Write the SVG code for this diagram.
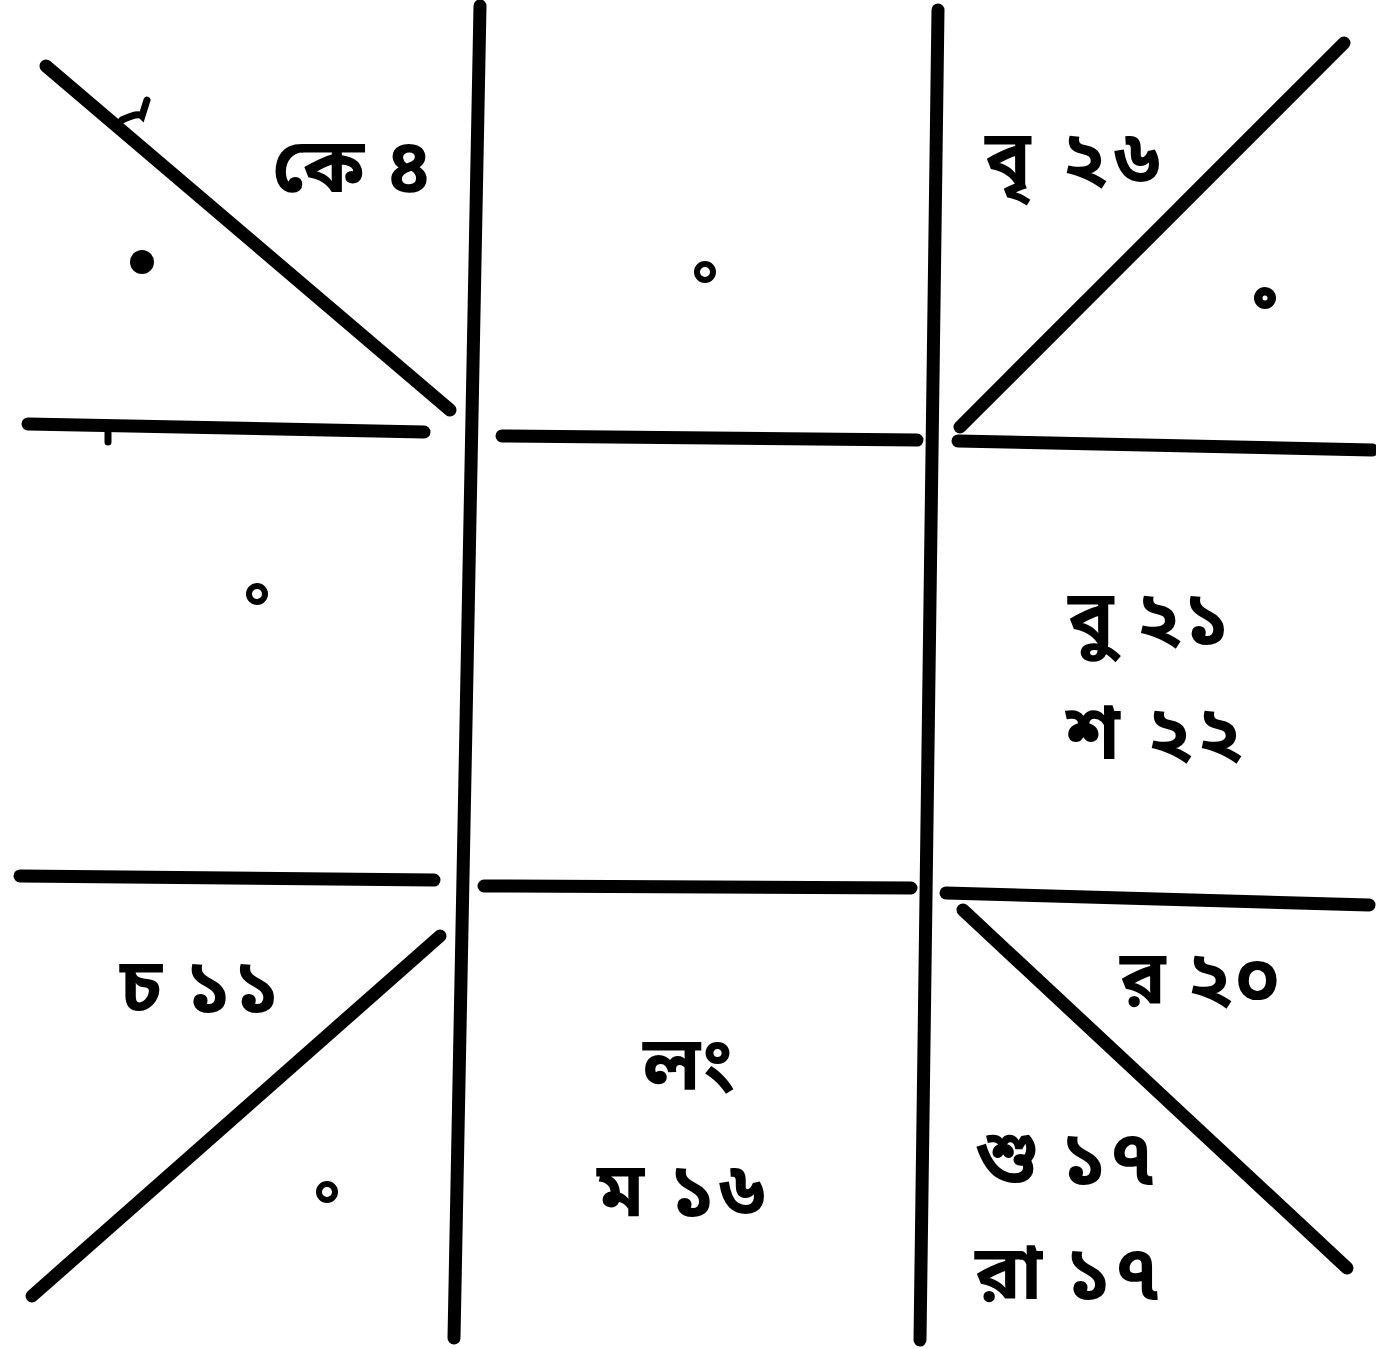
<svg xmlns="http://www.w3.org/2000/svg" width="1376" height="1348" viewBox="0 0 1376 1348">
<style>
.ln{stroke:#000;stroke-width:13;stroke-linecap:round;fill:none}
.t{font-family:"Noto Sans Bengali","Noto Sans","Noto Sans CJK SC",sans-serif;font-size:76px;font-weight:bold;fill:#000}
.ring{fill:none;stroke:#000;stroke-width:6}
</style>
<rect width="1376" height="1348" fill="#fff"/>
<g id="connectors">
<line class="ln" x1="480" y1="6" x2="454" y2="1338"/>
<line class="ln" x1="938" y1="10" x2="920" y2="1340"/>
<line class="ln" x1="46" y1="66" x2="450" y2="410"/>
<line class="ln" x1="28" y1="424" x2="424" y2="432"/>
<line class="ln" x1="502" y1="436" x2="917" y2="440"/>
<line class="ln" x1="1344" y1="43" x2="960" y2="427"/>
<line class="ln" x1="958" y1="441" x2="1372" y2="450"/>
<line class="ln" x1="20" y1="876" x2="434" y2="880"/>
<line class="ln" x1="484" y1="886" x2="911" y2="888"/>
<line class="ln" x1="946" y1="893" x2="1369" y2="905"/>
<line class="ln" x1="440" y1="936" x2="32" y2="1296"/>
<line class="ln" x1="963" y1="910" x2="1347" y2="1268"/>
<path d="M122 120 Q138 112 142 116 L147 100 M108 432 L108 442" stroke="#000" stroke-width="7" fill="none" stroke-linecap="round"/>
</g>
<g id="house-top-left">
<circle cx="142" cy="262" r="12" fill="#000"/>
<text class="t" x="272" y="192" textLength="160" lengthAdjust="spacing">কে ৪</text>
</g>
<g id="house-top-middle">
<circle class="ring" cx="705" cy="272" r="8"/>
</g>
<g id="house-top-right">
<text class="t" x="985" y="184" textLength="175" lengthAdjust="spacing">বৃ ২৬</text>
<circle cx="1265" cy="298" r="11" fill="#000"/>
<circle cx="1265" cy="298" r="2.5" fill="#fff"/>
</g>
<g id="house-middle-left">
<circle class="ring" cx="257" cy="594" r="8"/>
</g>
<g id="house-middle-right">
<text class="t" x="1068" y="644" textLength="162" lengthAdjust="spacing">বু ২১</text>
<text class="t" x="1066" y="759" textLength="177" lengthAdjust="spacing">শ ২২</text>
</g>
<g id="house-bottom-left">
<text class="t" x="120" y="1012" textLength="160" lengthAdjust="spacing">চ ১১</text>
<circle class="ring" cx="327" cy="1192" r="8"/>
</g>
<g id="house-bottom-middle">
<text class="t" x="643" y="1090" textLength="82" lengthAdjust="spacing">লং</text>
<text class="t" x="597" y="1216" textLength="168" lengthAdjust="spacing">ম ১৬</text>
</g>
<g id="house-bottom-right">
<text class="t" x="1120" y="1004" textLength="160" lengthAdjust="spacing">র ২০</text>
<text class="t" x="975" y="1184" textLength="180" lengthAdjust="spacing">শু ১৭</text>
<text class="t" x="975" y="1299" textLength="185" lengthAdjust="spacing">রা ১৭</text>
</g>
</svg>
